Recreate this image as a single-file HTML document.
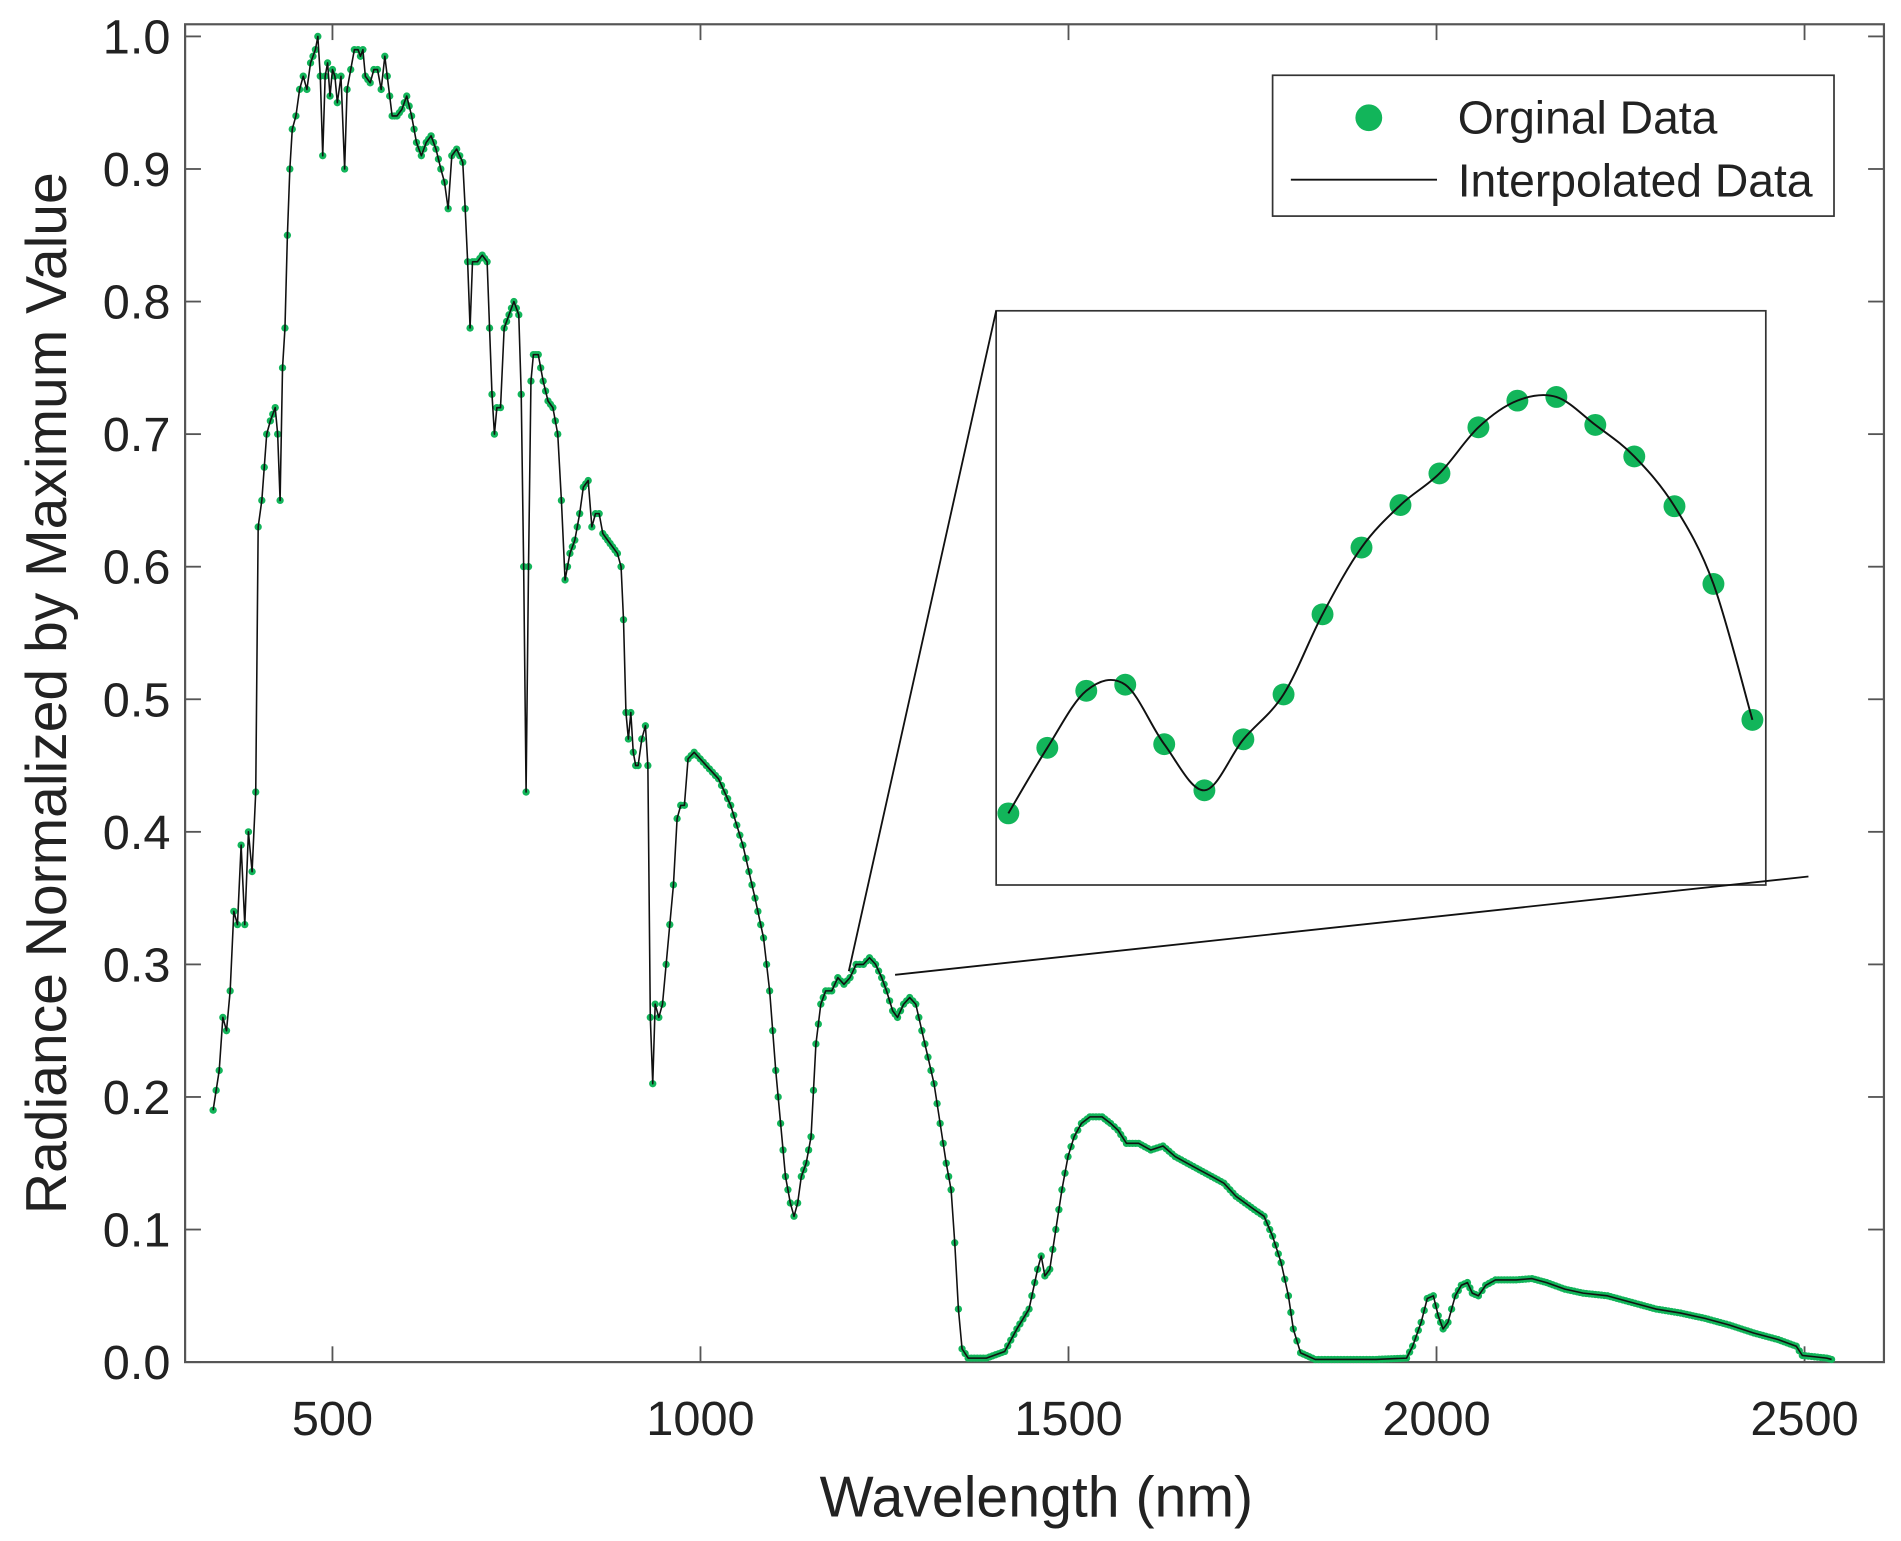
<!DOCTYPE html>
<html><head><meta charset="utf-8"><style>
html,body{margin:0;padding:0;background:#fff;}
svg{display:block;}
text{font-family:"Liberation Sans",Arial,sans-serif;fill:#222;}
</style></head><body>
<svg id="s" width="1901" height="1541" viewBox="0 0 1901 1541" xmlns="http://www.w3.org/2000/svg">
<g id="g" transform="scale(1.2178,1.214)"></g>
</svg>
<script>
var g=document.getElementById('g');var NS='http://www.w3.org/2000/svg';
function el(t,a,txt){var e=document.createElementNS(NS,t);for(var k in a)e.setAttribute(k,a[k]);if(txt!==undefined)e.textContent=txt;g.appendChild(e);return e;}
function Y(v){return 1122-v*1092;}
var d=[[175,0.19],[180,0.22],[183,0.26],[186,0.25],[189,0.28],[192,0.34],[195,0.33],[198,0.39],[201,0.33],[204,0.40],[207,0.37],[210,0.43],[212,0.63],[215,0.65],[219,0.70],[222,0.71],[226,0.72],[228,0.70],[230,0.65],[232,0.75],[234,0.78],[236,0.85],[238,0.90],[240,0.93],[243,0.94],[246,0.96],[249,0.97],[252,0.96],[255,0.98],[259,0.99],[261,1.0],[263,0.97],[265,0.91],[267,0.97],[269,0.98],[271,0.955],[273,0.975],[275,0.97],[277,0.95],[280,0.97],[283,0.90],[285,0.96],[288,0.975],[291,0.99],[294,0.99],[296,0.985],[298,0.99],[300,0.97],[304,0.965],[307,0.975],[310,0.975],[313,0.96],[316,0.985],[318,0.97],[322,0.94],[326,0.94],[330,0.945],[334,0.955],[338,0.94],[342,0.92],[346,0.91],[350,0.92],[354,0.925],[358,0.915],[362,0.90],[365,0.89],[368,0.87],[371,0.91],[375,0.915],[380,0.905],[382,0.87],[384,0.83],[386,0.78],[388,0.83],[392,0.83],[396,0.835],[400,0.83],[402,0.78],[404,0.73],[406,0.70],[408,0.72],[411,0.72],[414,0.78],[418,0.79],[422,0.80],[426,0.79],[428,0.73],[430,0.60],[432,0.43],[434,0.60],[436,0.74],[438,0.76],[442,0.76],[446,0.74],[450,0.725],[454,0.72],[458,0.70],[461,0.65],[464,0.59],[468,0.61],[472,0.62],[476,0.64],[479,0.66],[483,0.665],[486,0.63],[489,0.64],[492,0.64],[495,0.625],[499,0.62],[503,0.615],[507,0.61],[510,0.60],[512,0.56],[514,0.49],[516,0.47],[518,0.49],[520,0.46],[522,0.45],[524,0.45],[527,0.47],[530,0.48],[532,0.45],[534,0.26],[536,0.21],[538,0.27],[541,0.26],[544,0.27],[547,0.30],[550,0.33],[553,0.36],[556,0.41],[559,0.42],[562,0.42],[565,0.455],[570,0.46],[575,0.455],[580,0.45],[590,0.44],[600,0.42],[610,0.39],[620,0.35],[627,0.32],[632,0.28],[637,0.22],[641,0.18],[645,0.14],[649,0.12],[652,0.11],[655,0.12],[658,0.14],[662,0.15],[666,0.17],[670,0.24],[674,0.27],[678,0.28],[683,0.28],[688,0.29],[693,0.285],[698,0.29],[703,0.30],[709,0.30],[714,0.305],[719,0.30],[724,0.29],[728,0.28],[733,0.265],[737,0.26],[742,0.27],[747,0.275],[752,0.27],[757,0.25],[762,0.23],[767,0.21],[772,0.18],[777,0.15],[781,0.13],[784,0.09],[787,0.04],[790,0.01],[795,0.003],[810,0.003],[825,0.008],[835,0.025],[845,0.04],[852,0.07],[855,0.08],[858,0.065],[862,0.07],[867,0.10],[872,0.13],[877,0.155],[882,0.17],[888,0.18],[895,0.185],[905,0.185],[912,0.18],[918,0.175],[925,0.165],[935,0.165],[945,0.16],[955,0.163],[965,0.155],[975,0.15],[985,0.145],[995,0.14],[1005,0.135],[1015,0.125],[1030,0.115],[1038,0.11],[1045,0.095],[1052,0.075],[1058,0.05],[1062,0.025],[1068,0.007],[1080,0.002],[1130,0.002],[1155,0.003],[1160,0.012],[1167,0.03],[1172,0.048],[1177,0.05],[1181,0.035],[1185,0.025],[1189,0.03],[1195,0.05],[1200,0.058],[1205,0.06],[1209,0.052],[1214,0.05],[1220,0.058],[1228,0.062],[1245,0.062],[1258,0.063],[1270,0.06],[1285,0.055],[1300,0.052],[1320,0.05],[1340,0.045],[1360,0.04],[1380,0.037],[1400,0.033],[1420,0.028],[1440,0.022],[1460,0.017],[1475,0.012],[1480,0.005],[1490,0.004],[1500,0.003],[1504,0.002]];
el('rect',{x:152,y:20,width:1395,height:1102,fill:'none',stroke:'#555',"stroke-width":1.8});
for(var i=0;i<=10;i++){var y=Y(i/10);el('line',{x1:152,y1:y,x2:165,y2:y,stroke:'#555',"stroke-width":1.5});el('line',{x1:1547,y1:y,x2:1534,y2:y,stroke:'#555',"stroke-width":1.5});
el('text',{x:140,y:y+14,"text-anchor":"end","font-size":40},(i/10).toFixed(1));}
for(var k=0;k<5;k++){var x=273+k*302.2;el('line',{x1:x,y1:1122,x2:x,y2:1109,stroke:'#555',"stroke-width":1.5});el('line',{x1:x,y1:20,x2:x,y2:33,stroke:'#555',"stroke-width":1.5});
el('text',{x:x,y:1182,"text-anchor":"middle","font-size":40},String(500+k*500));}
el('text',{x:851,y:1249,"text-anchor":"middle","font-size":47},'Wavelength (nm)');
el('text',{x:0,y:0,"text-anchor":"middle","font-size":47,transform:'translate(54,571) rotate(-90)'},'Radiance Normalized by Maximum Value');
var pts=[];for(var i=0;i<d.length-1;i++){var a=d[i],b=d[i+1];var n=Math.max(1,Math.round((b[0]-a[0])/2.6));for(var j=0;j<n;j++){var t=j/n;pts.push([a[0]+(b[0]-a[0])*t,a[1]+(b[1]-a[1])*t]);}}
pts.push(d[d.length-1]);
pts.forEach(function(p){el('circle',{cx:p[0],cy:Y(p[1]),r:3,fill:'#12b55a'});});
el('polyline',{points:d.map(function(p){return p[0]+','+Y(p[1]).toFixed(1)}).join(' '),fill:'none',stroke:'#111',"stroke-width":1.3,"stroke-linejoin":"round"});
el('rect',{x:818,y:256,width:632,height:473,fill:'#fff',stroke:'#333',"stroke-width":1.4});
el('line',{x1:818,y1:256,x2:697,y2:800,stroke:'#111',"stroke-width":1.5});
el('line',{x1:735,y1:803,x2:1485,y2:722,stroke:'#111',"stroke-width":1.5});
var ip=[[828,670],[860,616],[892,569],[924,564],[956,613],[989,651],[1021,609],[1054,572],[1086,506],[1118,451],[1150,416],[1182,390],[1214,352],[1246,330],[1278,327],[1310,350],[1342,376],[1375,417],[1407,481],[1439,593]];
ip.forEach(function(p){el('circle',{cx:p[0],cy:p[1],r:9,fill:'#12b55a'});});
var pd='M'+ip[0][0]+','+ip[0][1];
for(var i=0;i<ip.length-1;i++){var p0=ip[Math.max(0,i-1)],p1=ip[i],p2=ip[i+1],p3=ip[Math.min(ip.length-1,i+2)];
var c1=[p1[0]+(p2[0]-p0[0])/6,p1[1]+(p2[1]-p0[1])/6],c2=[p2[0]-(p3[0]-p1[0])/6,p2[1]-(p3[1]-p1[1])/6];
pd+=' C'+c1+' '+c2+' '+p2;}
el('path',{d:pd,fill:'none',stroke:'#111',"stroke-width":1.6});
el('rect',{x:1045,y:62,width:461,height:116,fill:'#fff',stroke:'#333',"stroke-width":1.4});
el('circle',{cx:1124,cy:97,r:11,fill:'#12b55a'});
el('line',{x1:1060,y1:148,x2:1180,y2:148,stroke:'#111',"stroke-width":1.5});
el('text',{x:1197,y:110,"font-size":38},'Orginal Data');
el('text',{x:1197,y:162,"font-size":38},'Interpolated Data');
</script>
</body></html>
